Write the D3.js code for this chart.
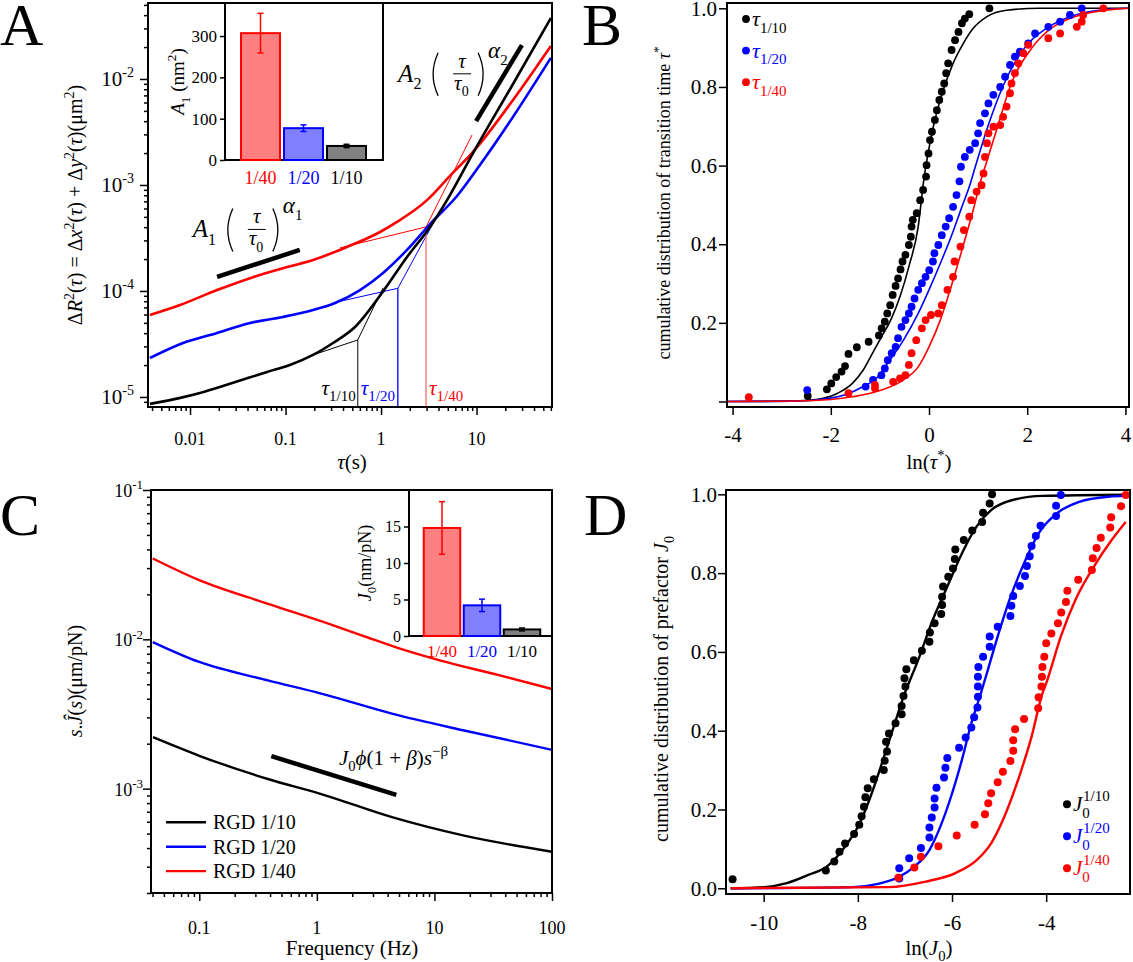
<!DOCTYPE html>
<html>
<head>
<meta charset="utf-8">
<script src="https://cdn.jsdelivr.net/npm/d3@7"></script>
<style>
  body { margin: 0; background: #fff; }
</style>
</head>
<body>
<script>
// ====== Four-panel figure: MSD, transition times, compliance, prefactor ======

const FONT = '"Liberation Serif","Times New Roman",serif';
const RED = '#ff0000', BLUE = '#0000ff', BLACK = '#000000';

// ---- Panel A: mean squared displacement (tau in s, MSD in um^2)
const aTauBlack = [0.0038, 0.0079, 0.0127, 0.0282, 0.064, 0.111, 0.194, 0.314, 0.534, 1.05, 1.87, 3.26, 4.91, 9.19, 24.1, 60];
const aMsdBlack = [8.6e-6, 9.8e-6, 1.09e-5, 1.36e-5, 1.72e-5, 2.0e-5, 2.49e-5, 3.23e-5, 4.57e-5, 9.9e-5, 2.09e-4, 4.02e-4, 7.2e-4, 2.0e-3, 8.97e-3, 0.0376];
const aTauBlue = [0.0038, 0.00845, 0.0192, 0.0425, 0.094, 0.194, 0.330, 0.603, 1.05, 1.87, 3.26, 6.25, 10.9, 24.1, 60];
const aMsdBlue = [2.33e-5, 3.23e-5, 4.02e-5, 4.99e-5, 5.69e-5, 6.62e-5, 7.71e-5, 1.02e-4, 1.48e-4, 2.44e-4, 4.28e-4, 7.87e-4, 1.55e-3, 4.39e-3, 0.0158];
const aTauRed = [0.0038, 0.00786, 0.0192, 0.0457, 0.104, 0.194, 0.44, 0.977, 1.47, 3.03, 5.28, 9.19, 24.1, 60];
const aMsdRed = [5.94e-5, 7.38e-5, 1.02e-4, 1.35e-4, 1.68e-4, 1.96e-4, 2.60e-4, 3.6e-4, 4.48e-4, 7.2e-4, 1.22e-3, 2.05e-3, 6.34e-3, 0.0205];

// two-regime power-law fits; middle point is the crossover tau_c
const aFitTauBlack = [0.194, 0.57, 1.05];
const aFitMsdBlack = [2.49e-5, 3.45e-5, 1.07e-4];
const aFitTauBlue = [0.314, 1.5, 3.83];
const aFitMsdBlue = [7.71e-5, 1.06e-4, 5.02e-4];
const aFitTauRed = [0.372, 2.96, 8.97];
const aFitMsdRed = [2.55e-4, 4.02e-4, 2.96e-3];

// slope guides
const aGuide1 = [[0.0192, 1.355e-4], [0.141, 2.44e-4]];
const aGuide2 = [[9.9, 4.0e-3], [29.9, 0.0209]];

// insets
const insetCats = ['1/40', '1/20', '1/10'];
const a1Vals = [307, 77, 34];
const a1Err = [48, 8, 4];
const j0Vals = [14.8, 4.2, 0.9];
const j0Err = [3.6, 0.85, 0.2];
const catStroke = [RED, BLUE, BLACK];
const catFill = ['#ff8080', '#8080ff', '#808080'];

// ---- Panel B: cumulative distribution of ln(tau*)
const bBlackX = [-2.47, -2.08, -1.99, -1.89, -1.78, -1.71, -1.64, -1.47, -1.23, -1.02, -0.965, -0.90, -0.85, -0.79, -0.74, -0.68, -0.63, -0.58, -0.54, -0.48, -0.41, -0.37, -0.355, -0.33, -0.25, -0.18, -0.12, -0.06, -0.05, -0.01, 0.02, 0.06, 0.12, 0.16, 0.21, 0.26, 0.31, 0.35, 0.39, 0.46, 0.53, 0.60, 0.67, 0.73, 0.82, 1.23];
const bBlackY = [0.014, 0.031, 0.046, 0.062, 0.076, 0.090, 0.121, 0.138, 0.152, 0.168, 0.186, 0.203, 0.224, 0.245, 0.271, 0.294, 0.313, 0.336, 0.356, 0.373, 0.398, 0.419, 0.445, 0.462, 0.479, 0.512, 0.538, 0.572, 0.601, 0.631, 0.665, 0.686, 0.716, 0.741, 0.767, 0.788, 0.809, 0.835, 0.860, 0.894, 0.919, 0.940, 0.962, 0.974, 0.985, 1.0];
const bBlueX = [-2.48, -1.29, -1.14, -0.97, -0.90, -0.84, -0.76, -0.68, -0.63, -0.56, -0.48, -0.41, -0.355, -0.295, -0.22, -0.145, -0.07, 0.004, 0.08, 0.11, 0.19, 0.26, 0.34, 0.41, 0.49, 0.56, 0.62, 0.65, 0.73, 0.83, 0.94, 1.00, 1.04, 1.14, 1.21, 1.31, 1.45, 1.55, 1.65, 1.75, 1.85, 2.02, 2.16, 2.43, 2.67, 2.87, 3.11];
const bBlueY = [0.029, 0.038, 0.055, 0.067, 0.084, 0.105, 0.123, 0.139, 0.161, 0.190, 0.207, 0.224, 0.241, 0.262, 0.284, 0.301, 0.317, 0.334, 0.356, 0.377, 0.398, 0.423, 0.445, 0.466, 0.495, 0.525, 0.56, 0.597, 0.622, 0.640, 0.657, 0.682, 0.708, 0.733, 0.758, 0.78, 0.80, 0.826, 0.856, 0.877, 0.89, 0.911, 0.936, 0.953, 0.966, 0.983, 1.0];
const bRedX = [-3.67, -1.64, -1.10, -1.10, -0.73, -0.59, -0.48, -0.41, -0.355, -0.26, -0.145, -0.07, 0.04, 0.19, 0.26, 0.375, 0.49, 0.52, 0.64, 0.71, 0.82, 0.86, 0.97, 1.07, 1.11, 1.14, 1.18, 1.21, 1.31, 1.45, 1.51, 1.58, 1.65, 1.68, 1.75, 1.82, 1.92, 2.02, 2.43, 2.67, 3.01, 3.11, 3.14, 3.55];
const bRedY = [0.011, 0.021, 0.034, 0.042, 0.05, 0.059, 0.067, 0.093, 0.123, 0.156, 0.186, 0.207, 0.22, 0.224, 0.245, 0.284, 0.317, 0.356, 0.394, 0.436, 0.47, 0.512, 0.534, 0.55, 0.58, 0.622, 0.657, 0.682, 0.699, 0.703, 0.724, 0.75, 0.784, 0.809, 0.835, 0.86, 0.886, 0.907, 0.924, 0.936, 0.953, 0.966, 0.983, 1.0];

const bFitBlackX = [-4.1, -2.8, -2.3, -1.86, -1.56, -1.34, -1.15, -0.965, -0.78, -0.59, -0.41, -0.22, -0.11, 0.09, 0.29, 0.49, 0.70, 0.90, 1.18, 1.58, 2.26, 4.07];
const bFitBlackY = [0, 0.001, 0.005, 0.021, 0.046, 0.08, 0.123, 0.165, 0.207, 0.267, 0.343, 0.445, 0.56, 0.70, 0.792, 0.86, 0.911, 0.949, 0.979, 0.995, 1.0, 1.0];
const bFitBlueX = [-4.1, -2.8, -2.3, -1.71, -1.34, -1.04, -0.82, -0.52, -0.22, 0, 0.23, 0.45, 0.67, 0.82, 0.95, 1.2, 1.5, 1.95, 2.4, 2.9, 3.6, 4.07];
const bFitBlueY = [0, 0.001, 0.004, 0.017, 0.038, 0.063, 0.101, 0.156, 0.224, 0.284, 0.351, 0.419, 0.495, 0.546, 0.6, 0.7, 0.8, 0.9, 0.95, 0.98, 0.997, 1.0];
const bFitRedX = [-4.1, -2.5, -1.56, -0.965, -0.52, -0.22, 0, 0.23, 0.45, 0.67, 0.9, 1.04, 1.15, 1.4, 1.65, 2.1, 2.5, 3.0, 3.8, 4.07];
const bFitRedY = [0, 0.002, 0.012, 0.029, 0.055, 0.088, 0.139, 0.207, 0.292, 0.385, 0.487, 0.555, 0.6, 0.7, 0.8, 0.9, 0.95, 0.98, 0.998, 1.0];

// ---- Panel C: s.J(s) vs frequency (Hz, um/pN)
const cFreqBlack = [0.0404, 0.1, 0.383, 1.09, 4.43, 17.9, 100];
const cValBlack = [0.00221, 0.00166, 0.00116, 0.00092, 0.000641, 0.000484, 0.000378];
const cFreqBlue = [0.0402, 0.1, 0.383, 1.09, 4.43, 17.9, 100];
const cValBlue = [0.00959, 0.00705, 0.00531, 0.00433, 0.00317, 0.00245, 0.00182];
const cFreqRed = [0.0402, 0.1, 0.374, 1.38, 2.65, 5.10, 11.1, 36, 100];
const cValRed = [0.0348, 0.0249, 0.0174, 0.0124, 0.01035, 0.00866, 0.00723, 0.00573, 0.00465];
const cGuide = [[0.41, 0.00165], [4.74, 0.000908]];
const cLegend = ['RGD 1/10', 'RGD 1/20', 'RGD 1/40'];

// ---- Panel D: cumulative distribution of ln(J0)
const dBlackX = [-10.66, -8.68, -8.50, -8.39, -8.27, -8.08, -7.97, -7.92, -7.87, -7.84, -7.79, -7.66, -7.45, -7.43, -7.38, -7.40, -7.34, -7.20, -7.07, -7.07, -7.03, -6.99, -7.01, -6.97, -6.81, -6.64, -6.48, -6.47, -6.37, -6.23, -6.21, -6.21, -6.19, -6.08, -5.98, -5.94, -5.93, -5.75, -5.57, -5.36, -5.34, -5.20, -5.15];
const dBlackY = [0.023, 0.045, 0.068, 0.093, 0.114, 0.138, 0.161, 0.183, 0.207, 0.231, 0.254, 0.277, 0.300, 0.324, 0.347, 0.372, 0.393, 0.419, 0.442, 0.463, 0.488, 0.512, 0.533, 0.556, 0.579, 0.603, 0.626, 0.649, 0.673, 0.696, 0.719, 0.74, 0.766, 0.791, 0.812, 0.836, 0.860, 0.884, 0.908, 0.93, 0.953, 0.977, 1.0];
const dBlueX = [-7.12, -7.12, -6.91, -6.66, -6.48, -6.48, -6.43, -6.37, -6.37, -6.33, -6.17, -6.14, -6.10, -5.85, -5.71, -5.59, -5.53, -5.46, -5.45, -5.45, -5.45, -5.44, -5.34, -5.20, -5.20, -5.03, -4.76, -4.74, -4.70, -4.56, -4.45, -4.41, -4.35, -4.31, -4.22, -4.12, -3.79, -3.79, -3.69];
const dBlueY = [0.025, 0.051, 0.076, 0.102, 0.129, 0.154, 0.18, 0.205, 0.228, 0.255, 0.281, 0.306, 0.331, 0.357, 0.383, 0.408, 0.434, 0.459, 0.486, 0.512, 0.537, 0.562, 0.588, 0.613, 0.639, 0.664, 0.691, 0.717, 0.742, 0.767, 0.793, 0.818, 0.843, 0.869, 0.894, 0.92, 0.945, 0.971, 0.998];
const dRedX = [-7.14, -6.80, -6.66, -6.29, -5.90, -5.52, -5.30, -5.23, -5.17, -5.03, -4.92, -4.76, -4.70, -4.70, -4.66, -4.47, -4.17, -4.16, -4.10, -4.09, -4.08, -4.04, -4.00, -3.89, -3.75, -3.68, -3.58, -3.55, -3.32, -3.03, -3.01, -2.93, -2.84, -2.64, -2.62, -2.41, -2.31];
const dRedY = [0.027, 0.053, 0.08, 0.107, 0.134, 0.161, 0.188, 0.216, 0.241, 0.269, 0.296, 0.323, 0.349, 0.376, 0.404, 0.43, 0.457, 0.485, 0.512, 0.537, 0.562, 0.588, 0.622, 0.647, 0.673, 0.70, 0.727, 0.755, 0.783, 0.808, 0.838, 0.864, 0.89, 0.916, 0.942, 0.97, 0.998];

const dFitBlackX = [-10.7, -9.98, -9.51, -9.05, -8.66, -8.27, -7.96, -7.73, -7.49, -7.26, -7.03, -6.72, -6.41, -6.10, -5.79, -5.48, -5.17, -4.70, -4.08, -2.3];
const dFitBlackY = [0, 0.003, 0.013, 0.034, 0.055, 0.106, 0.165, 0.233, 0.317, 0.402, 0.486, 0.579, 0.681, 0.766, 0.85, 0.918, 0.96, 0.986, 0.996, 0.999];
const dFitBlueX = [-10.7, -8.11, -7.57, -7.11, -6.80, -6.48, -6.25, -6.02, -5.79, -5.59, -5.40, -5.24, -5.01, -4.78, -4.47, -4.16, -3.77, -3.30, -2.68, -2.3];
const dFitBlueY = [0, 0.003, 0.011, 0.03, 0.055, 0.097, 0.156, 0.233, 0.326, 0.419, 0.49, 0.554, 0.647, 0.732, 0.825, 0.901, 0.952, 0.981, 0.994, 0.996];
const dFitRedX = [-10.7, -7.34, -6.56, -5.94, -5.47, -5.17, -4.86, -4.55, -4.31, -4.08, -4.00, -3.69, -3.38, -2.99, -2.61, -2.31];
const dFitRedY = [0, 0.003, 0.017, 0.038, 0.072, 0.114, 0.19, 0.292, 0.385, 0.495, 0.52, 0.639, 0.732, 0.816, 0.884, 0.93];

// ====== helpers ======
const svg = d3.select('body').append('svg')
  .attr('width', 1133).attr('height', 962)
  .style('font-family', FONT);

// text with italic / sub / superscript pieces
function rich(parent, parts, fs) {
  const t = parent.append('text').attr('font-size', fs);
  let off = 0;
  parts.forEach(p => {
    const o = typeof p === 'string' ? { t: p } : p;
    const lvl = o.sup ? -0.42 * fs : o.sub ? 0.3 * fs : 0;
    const s = t.append('tspan').text(o.t);
    if (lvl !== off) s.attr('dy', lvl - off);
    off = lvl;
    if (o.size || o.sup || o.sub) s.attr('font-size', o.size || fs * 0.7);
    if (o.it) s.attr('font-style', 'italic');
  });
  return t;
}

function frame(g, x0, y0, x1, y1, fill) {
  g.append('rect').attr('x', x0).attr('y', y0)
    .attr('width', x1 - x0).attr('height', y1 - y0)
    .attr('fill', fill || 'none').attr('stroke', '#000').attr('stroke-width', 2);
}

const isDecade = v => Math.abs(Math.log10(v) - Math.round(Math.log10(v))) < 1e-6;

// major + minor ticks of a log scale, returns the decades
function logTicks(g, scale, orient, at) {
  const all = scale.ticks();
  const majors = all.filter(isDecade), minors = all.filter(v => !isDecade(v));
  const mk = orient === 'left' ? d3.axisLeft : d3.axisBottom;
  const tr = orient === 'left' ? 'translate(' + at + ',0)' : 'translate(0,' + at + ')';
  [[minors, 4], [majors, 8]].forEach(([vals, len]) => {
    g.append('g').attr('transform', tr)
      .call(mk(scale).tickValues(vals).tickSize(len).tickFormat(''))
      .call(s => s.select('.domain').remove())
      .selectAll('line').attr('stroke-width', 1.5);
  });
  return majors;
}

function linTicks(g, scale, orient, at, vals, fmt, pad, fs, len) {
  const mk = orient === 'left' ? d3.axisLeft : d3.axisBottom;
  const tr = orient === 'left' ? 'translate(' + at + ',0)' : 'translate(0,' + at + ')';
  g.append('g').attr('transform', tr)
    .call(mk(scale).tickValues(vals).tickSize(len || 8).tickPadding(pad).tickFormat(fmt))
    .attr('font-family', FONT).attr('font-size', fs)
    .call(s => s.select('.domain').remove())
    .call(s => s.selectAll('line').attr('stroke-width', 1.5));
}

function yTitle(g, x, y, parts, fs) {
  rich(g, parts, fs).attr('text-anchor', 'middle')
    .attr('transform', 'translate(' + x + ',' + y + ') rotate(-90)');
}

function dots(g, xs, ys, sx, sy, color, r) {
  g.append('g').selectAll('circle')
    .data(d3.zip(xs, ys))
    .enter().append('circle')
    .attr('cx', d => sx(d[0])).attr('cy', d => sy(d[1]))
    .attr('r', r).attr('fill', color);
}

// thin tall bracket drawn as a curve; dir -1 = "(", +1 = ")"
function paren(h, x, top, bot, dir) {
  h.append('path')
    .attr('d', 'M' + x + ',' + top + ' Q' + (x + dir * 10) + ',' + ((top + bot) / 2) + ' ' + x + ',' + bot)
    .attr('fill', 'none').attr('stroke', '#000').attr('stroke-width', 1.3);
}

// A (tau/tau0)^alpha label, anchored on the baseline of "A"
function powerLabel(g, x, y, k) {
  const h = g.append('g').attr('transform', 'translate(' + x + ',' + y + ')');
  rich(h, [{ t: 'A', it: true }, { t: k, sub: true, size: 16 }], 25);
  paren(h, 40, -29, 14, -1);
  h.append('text').attr('x', 64).attr('y', -14).attr('text-anchor', 'middle')
    .attr('font-size', 21).attr('font-style', 'italic').text('τ');
  h.append('line').attr('x1', 55).attr('x2', 73).attr('y1', -8).attr('y2', -8)
    .attr('stroke', '#000').attr('stroke-width', 1);
  rich(h, [{ t: 'τ', it: true }, { t: '0', sub: true, size: 14 }], 21)
    .attr('x', 56).attr('y', 8);
  paren(h, 80, -29, 14, 1);
  rich(h, [{ t: 'α', it: true }, { t: k, sub: true, size: 15 }], 23)
    .attr('x', 90).attr('y', -24);
}

// bar inset with error bars
function barInset(g, box, yDomain, yTicks, vals, errs, title, titleX) {
  const bx = d3.scaleBand().domain(insetCats)
    .range([box.b0, box.b1]).paddingInner(box.pi).paddingOuter(box.pi / 2);
  const by = d3.scaleLinear().domain(yDomain).range([box.y1, box.y0]);
  frame(g, box.x0, box.y0, box.x1, box.y1, '#fff');
  g.append('g').selectAll('rect')
    .data(insetCats)
    .enter().append('rect')
    .attr('x', d => bx(d)).attr('width', bx.bandwidth())
    .attr('y', (d, i) => by(vals[i])).attr('height', (d, i) => box.y1 - by(vals[i]))
    .attr('fill', (d, i) => catFill[i]).attr('stroke', (d, i) => catStroke[i]).attr('stroke-width', 2);
  const eb = g.append('g').selectAll('g')
    .data(insetCats)
    .enter().append('g')
    .attr('stroke', (d, i) => catStroke[i]).attr('stroke-width', 1.5);
  eb.append('line')
    .attr('x1', d => bx(d) + bx.bandwidth() / 2).attr('x2', d => bx(d) + bx.bandwidth() / 2)
    .attr('y1', (d, i) => by(vals[i] + errs[i])).attr('y2', (d, i) => by(vals[i] - errs[i]));
  [1, -1].forEach(sgn => {
    eb.append('line')
      .attr('x1', d => bx(d) + bx.bandwidth() / 2 - 3).attr('x2', d => bx(d) + bx.bandwidth() / 2 + 3)
      .attr('y1', (d, i) => by(vals[i] + sgn * errs[i])).attr('y2', (d, i) => by(vals[i] + sgn * errs[i]));
  });
  linTicks(g, by, 'left', box.x0, yTicks, d => d, 3, box.fs, 5);
  g.append('g').selectAll('text')
    .data(insetCats)
    .enter().append('text')
    .attr('x', d => bx(d) + bx.bandwidth() / 2).attr('y', box.y1 + box.labDy)
    .attr('text-anchor', 'middle').attr('font-size', box.fs + 1)
    .attr('fill', (d, i) => catStroke[i])
    .text(d => d);
  yTitle(g, titleX, (box.y0 + box.y1) / 2, title, box.fs + 2);
}

function panelLetter(x, y, s) {
  svg.append('text').attr('x', x).attr('y', y).attr('font-size', 60).text(s);
}

// ====== Panel A ======
const gA = svg.append('g');
const axA = d3.scaleLog().domain([0.00363, 61.7]).range([148, 552]);
const ayA = d3.scaleLog().domain([8.04e-6, 0.0521]).range([407, 3]);
const lineA = d3.line().x(d => axA(d[0])).y(d => ayA(d[1]));

[[aFitTauBlack, aFitMsdBlack, '#404040', BLACK], [aFitTauBlue, aFitMsdBlue, BLUE, BLUE], [aFitTauRed, aFitMsdRed, '#ff7070', RED]]
  .forEach(([t, m, vc, c]) => {
    gA.append('line')
      .attr('x1', axA(t[1])).attr('x2', axA(t[1]))
      .attr('y1', ayA(m[1])).attr('y2', 407)
      .attr('stroke', vc).attr('stroke-width', 1.3);
    gA.append('path').datum(d3.zip(t, m)).attr('d', lineA)
      .attr('fill', 'none').attr('stroke', c).attr('stroke-width', 1);
  });

[[aTauRed, aMsdRed, RED], [aTauBlue, aMsdBlue, BLUE], [aTauBlack, aMsdBlack, BLACK]].forEach(([t, m, c]) => {
  gA.append('path').datum(d3.zip(t, m))
    .attr('d', lineA.curve(d3.curveMonotoneX))
    .attr('fill', 'none').attr('stroke', c).attr('stroke-width', 2.6);
});
lineA.curve(d3.curveLinear);

[aGuide1, aGuide2].forEach(seg => {
  gA.append('path').datum(seg).attr('d', lineA)
    .attr('stroke', '#000').attr('stroke-width', 4.5);
});
powerLabel(gA, axA(0.0107), ayA(3.2e-4), '1');
powerLabel(gA, axA(1.51), ayA(9.4e-3), '2');

// tau_c labels
rich(gA, [{ t: 'τ', it: true }, { t: '1/10', sub: true, size: 15 }], 21)
  .attr('x', axA(aFitTauBlack[1]) - 2).attr('y', 395).attr('text-anchor', 'end');
rich(gA, [{ t: 'τ', it: true }, { t: '1/20', sub: true, size: 15 }], 21)
  .attr('x', axA(aFitTauBlack[1]) + 3).attr('y', 395).attr('fill', BLUE);
rich(gA, [{ t: 'τ', it: true }, { t: '1/40', sub: true, size: 15 }], 21)
  .attr('x', axA(aFitTauRed[1]) + 3).attr('y', 395).attr('fill', RED);

frame(gA, 148, 3, 552, 407);
logTicks(gA, axA, 'bottom', 407).forEach(v => {
  gA.append('text').attr('x', axA(v)).attr('y', 445).attr('text-anchor', 'middle')
    .attr('font-size', 18).text(String(v));
});
logTicks(gA, ayA, 'left', 148).forEach(v => {
  rich(gA, ['10', { t: String(Math.round(Math.log10(v))), sup: true, size: 14 }], 21)
    .attr('x', 134).attr('y', ayA(v) + 7).attr('text-anchor', 'end');
});
rich(gA, [{ t: 'τ', it: true }, '(s)'], 21).attr('x', 352).attr('y', 469).attr('text-anchor', 'middle');
yTitle(gA, 82, 205, ['Δ', { t: 'R', it: true }, { t: '2', sup: true }, '(', { t: 'τ', it: true }, ') = Δ',
  { t: 'x', it: true }, { t: '2', sup: true }, '(', { t: 'τ', it: true }, ') + Δ',
  { t: 'y', it: true }, { t: '2', sup: true }, '(', { t: 'τ', it: true }, ')(μm', { t: '2', sup: true }, ')'], 20);

barInset(gA, { x0: 225, x1: 383, y0: 3, y1: 160, b0: 239, b1: 368, pi: 0.093, fs: 17, labDy: 24 },
  [0, 380], [0, 100, 200, 300], a1Vals, a1Err,
  [{ t: 'A', it: true }, { t: '1', sub: true }, ' (nm', { t: '2', sup: true }, ')'], 184);

panelLetter(0, 45, 'A');

// ====== Panel B ======
const gB = svg.append('g');
const bx = d3.scaleLinear().domain([-4.114, 4.073]).range([727, 1129]);
const by = d3.scaleLinear().domain([-0.014, 1.0135]).range([407, 3]);
const lineB = d3.line().x(d => bx(d[0])).y(d => by(d[1])).curve(d3.curveMonotoneX);

[[bFitBlackX, bFitBlackY, BLACK], [bFitBlueX, bFitBlueY, BLUE], [bFitRedX, bFitRedY, RED]].forEach(([x, y, c]) => {
  gB.append('path').datum(d3.zip(x, y)).attr('d', lineB)
    .attr('fill', 'none').attr('stroke', c).attr('stroke-width', 1.6);
});
dots(gB, bBlackX, bBlackY, bx, by, BLACK, 3.9);
dots(gB, bBlueX, bBlueY, bx, by, BLUE, 3.9);
dots(gB, bRedX, bRedY, bx, by, RED, 3.9);

frame(gB, 727, 3, 1129, 407);
linTicks(gB, by, 'left', 727, [0, 0.2, 0.4, 0.6, 0.8, 1.0], d => d === 0 ? '' : d3.format('.1f')(d), 2, 21);
linTicks(gB, bx, 'bottom', 407, [-4, -2, 0, 2, 4], d => String(d), 12, 21);
rich(gB, ['ln(', { t: 'τ', it: true }, { t: '*', sup: true }, ')'], 21).attr('x', 929).attr('y', 469).attr('text-anchor', 'middle');
yTitle(gB, 670, 203, ['cumulative distribution of transition time ', { t: 'τ', it: true }, { t: '*', sup: true }], 18);

['1/10', '1/20', '1/40'].forEach((s, i) => {
  const c = [BLACK, BLUE, RED][i];
  const yy = 19 + i * 31.6;
  gB.append('circle').attr('cx', 746).attr('cy', yy).attr('r', 3.9).attr('fill', c);
  rich(gB, [{ t: 'τ', it: true }, { t: s, sub: true, size: 15 }], 22)
    .attr('x', 752).attr('y', yy + 7).attr('fill', c);
});

panelLetter(582, 45, 'B');

// ====== Panel C ======
const gC = svg.append('g');
const cx = d3.scaleLog().domain([0.03884, 100]).range([151, 552]);
const cy = d3.scaleLog().domain([2e-4, 0.1]).range([893, 490]);
const lineC = d3.line().x(d => cx(d[0])).y(d => cy(d[1]));

[[cFreqRed, cValRed, RED], [cFreqBlue, cValBlue, BLUE], [cFreqBlack, cValBlack, BLACK]].forEach(([f, v, c]) => {
  gC.append('path').datum(d3.zip(f, v)).attr('d', lineC.curve(d3.curveMonotoneX))
    .attr('fill', 'none').attr('stroke', c).attr('stroke-width', 2.4);
});
lineC.curve(d3.curveLinear);
gC.append('path').datum(cGuide).attr('d', lineC).attr('stroke', '#000').attr('stroke-width', 4.5);
rich(gC, [{ t: 'J', it: true }, { t: '0', sub: true }, { t: 'ϕ', it: true }, '(1 + ', { t: 'β', it: true }, ')',
  { t: 's', it: true }, { t: '−β', sup: true, size: 15 }], 21)
  .attr('x', cx(1.54)).attr('y', cy(0.00145));

frame(gC, 151, 490, 552, 893);
logTicks(gC, cx, 'bottom', 893).forEach(v => {
  gC.append('text').attr('x', cx(v)).attr('y', 934).attr('text-anchor', 'middle')
    .attr('font-size', 18).text(String(v));
});
logTicks(gC, cy, 'left', 151).forEach(v => {
  rich(gC, ['10', { t: String(Math.round(Math.log10(v))), sup: true, size: 13 }], 18)
    .attr('x', 143).attr('y', cy(v) + 7).attr('text-anchor', 'end');
});
gC.append('text').attr('x', 352).attr('y', 955).attr('text-anchor', 'middle').attr('font-size', 21).text('Frequency (Hz)');
yTitle(gC, 82, 681, [{ t: 's', it: true }, '.', { t: 'Ĵ', it: true }, '(', { t: 's', it: true }, ')(μm/pN)'], 20);

cLegend.forEach((s, i) => {
  const yy = 822.3 + i * 24.4;
  gC.append('line').attr('x1', 166).attr('x2', 206).attr('y1', yy).attr('y2', yy)
    .attr('stroke', [BLACK, BLUE, RED][i]).attr('stroke-width', 2.4);
  gC.append('text').attr('x', 213).attr('y', yy + 7).attr('font-size', 20).text(s);
});

barInset(gC, { x0: 409, x1: 552, y0: 490, y1: 636, b0: 422, b1: 542, pi: 0.0875, fs: 16, labDy: 21 },
  [0, 20], [0, 5, 10, 15], j0Vals, j0Err,
  [{ t: 'J', it: true }, { t: '0', sub: true }, '(nm/pN)'], 371);

panelLetter(0, 535, 'C');

// ====== Panel D ======
const gD = svg.append('g');
const dx = d3.scaleLinear().domain([-10.80, -2.22]).range([726, 1130]);
const dy = d3.scaleLinear().domain([-0.0145, 1.011]).range([894, 490]);
const lineD = d3.line().x(d => dx(d[0])).y(d => dy(d[1])).curve(d3.curveMonotoneX);

[[dFitBlackX, dFitBlackY, BLACK], [dFitBlueX, dFitBlueY, BLUE], [dFitRedX, dFitRedY, RED]].forEach(([x, y, c]) => {
  gD.append('path').datum(d3.zip(x, y)).attr('d', lineD)
    .attr('fill', 'none').attr('stroke', c).attr('stroke-width', 2.4);
});
dots(gD, dBlackX, dBlackY, dx, dy, BLACK, 4);
dots(gD, dBlueX, dBlueY, dx, dy, BLUE, 4);
dots(gD, dRedX, dRedY, dx, dy, RED, 4);

frame(gD, 726, 490, 1130, 894);
linTicks(gD, dy, 'left', 726, [0, 0.2, 0.4, 0.6, 0.8, 1.0], d3.format('.1f'), 1, 21);
linTicks(gD, dx, 'bottom', 894, [-10, -8, -6, -4], d => String(d), 13, 21);
rich(gD, ['ln(', { t: 'J', it: true }, { t: '0', sub: true }, ')'], 21).attr('x', 929).attr('y', 955).attr('text-anchor', 'middle');
yTitle(gD, 668, 689, ['cumulative distribution of prefactor ', { t: 'J', it: true }, { t: '0', sub: true }], 20);

['1/10', '1/20', '1/40'].forEach((s, i) => {
  const c = [BLACK, BLUE, RED][i];
  const yy = 804.3 + i * 32;
  gD.append('circle').attr('cx', 1067).attr('cy', yy).attr('r', 4).attr('fill', c);
  rich(gD, [{ t: 'J', it: true }, { t: '0', sub: true, size: 15 }], 21)
    .attr('x', 1073).attr('y', yy + 7).attr('fill', c);
  gD.append('text').attr('x', 1083).attr('y', yy - 3).attr('font-size', 15).attr('fill', c).text(s);
});

panelLetter(584, 535, 'D');
</script>
</body>
</html>
